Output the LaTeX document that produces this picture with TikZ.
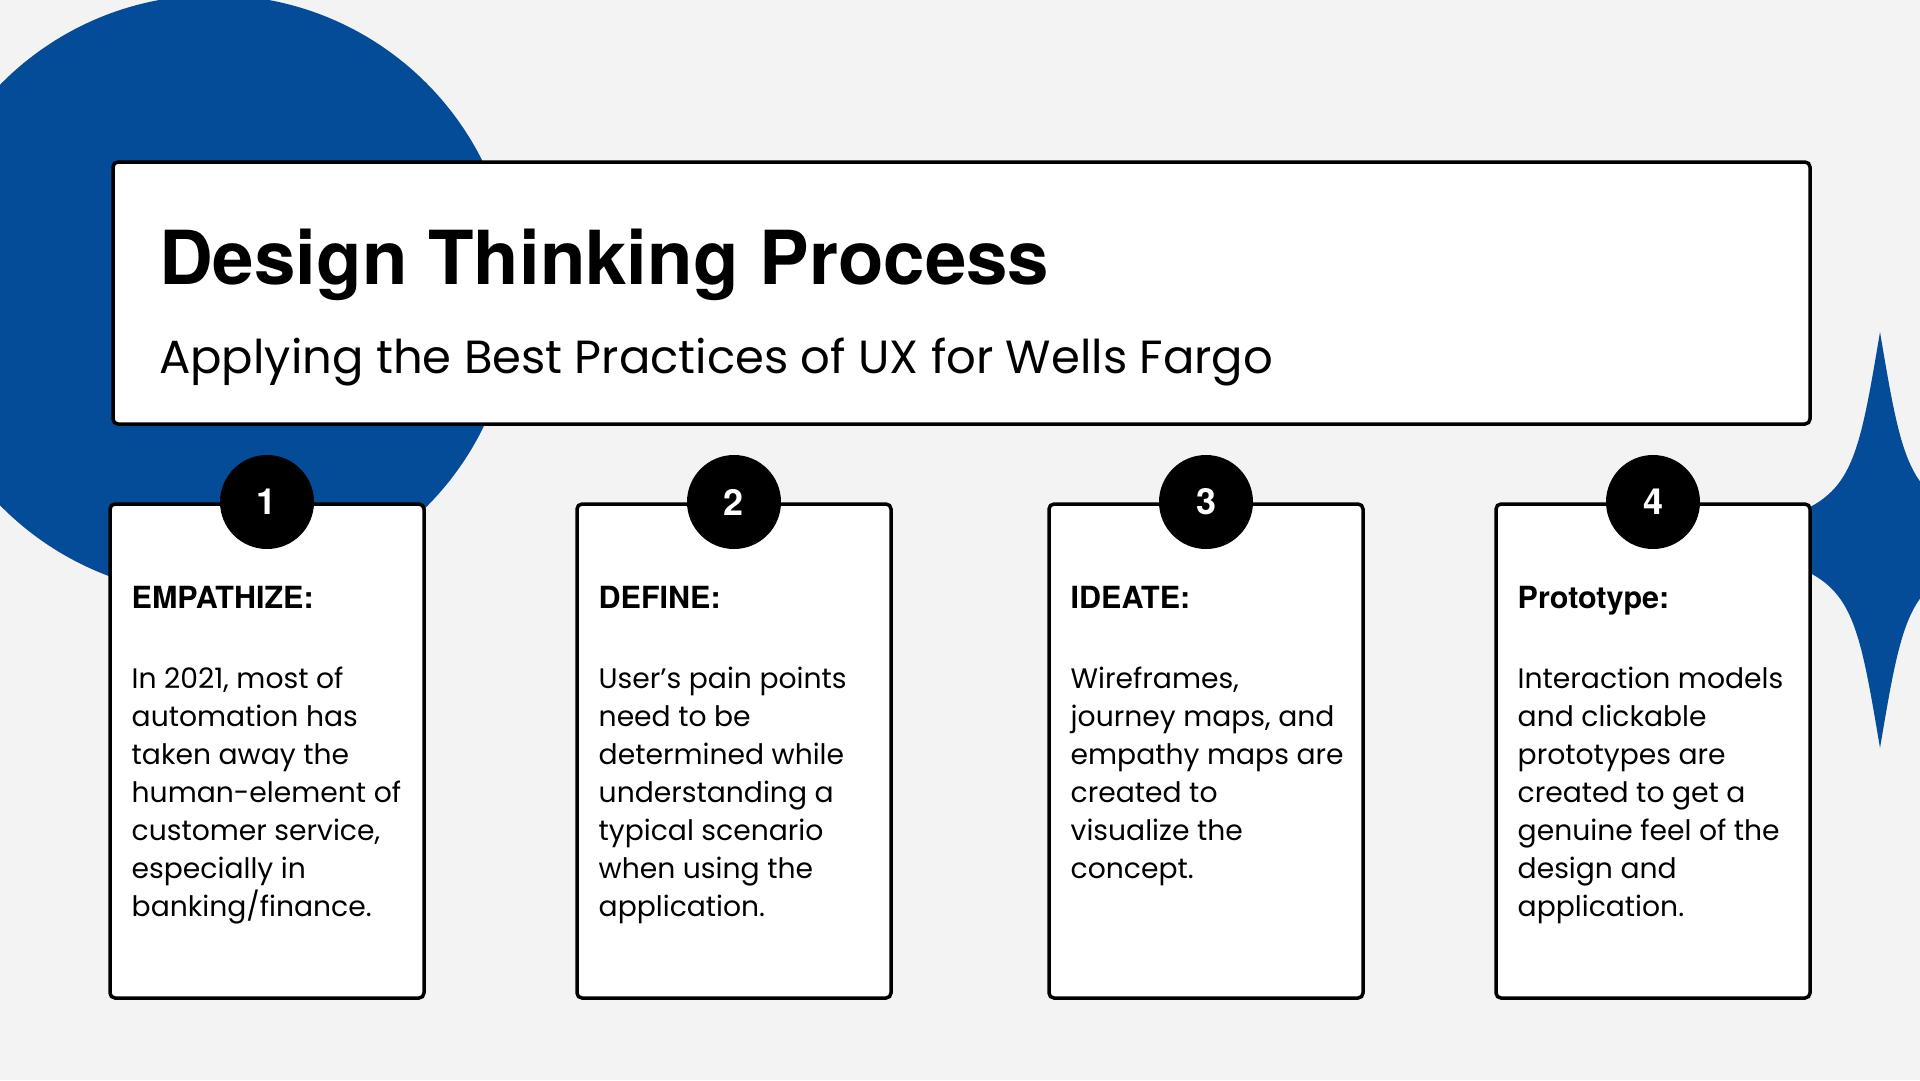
\documentclass[tikz,border=0pt]{standalone}
\usepackage{fontspec}
\setmainfont{Poppins}
\newfontfamily\headfont{TeX Gyre Heros}

\definecolor{pagebg}{HTML}{F3F3F3}
\definecolor{fargoblue}{HTML}{044C97}

\begin{document}
\begin{tikzpicture}
[
	x=1pt,y=-1pt,
	panel/.style={draw=black,line width=3.5pt,fill=white,rounded corners=5pt,inner sep=0pt},
	numdot/.style={circle,fill=black,text=white,minimum size=94pt,inner sep=0pt,font=\headfont\bfseries\fontsize{36}{36}\selectfont},
	cardhead/.style={anchor=base west,inner sep=0pt,font=\headfont\bfseries\fontsize{30.5}{30.5}\selectfont},
	cardbody/.style={anchor=north west,inner sep=0pt,align=left,font=\fontsize{28.2}{38}\selectfont}
]

	\useasboundingbox (0,0) rectangle (1920,1080);
	\clip (0,0) rectangle (1920,1080);
	\fill[pagebg] (0,0) rectangle (1920,1080);

	% background shapes
	\fill[fargoblue] (214,295) circle (300);
	\fill[fargoblue] (1880,332) .. controls (1850,510) .. (1672,540)
		.. controls (1850,570) .. (1880,748)
		.. controls (1910,570) .. (2088,540)
		.. controls (1910,510) .. (1880,332) -- cycle;

	\node[panel,minimum width=1697pt,minimum height=262pt] at (961.5,293) (head) {};
	\node[anchor=base west,inner sep=0pt,font=\headfont\bfseries\fontsize{74.5}{74.5}\selectfont] at (159,284) (title) {Design Thinking Process};
	\node[anchor=base west,inner sep=0pt,font=\fontsize{46.5}{46.5}\selectfont] at (159,373) (subtitle) {Applying the Best Practices of UX for Wells Fargo};

	\foreach \cx/\n/\head/\body in {
		267/1/EMPATHIZE:/{In 2021, most of\\automation has\\taken away the\\human-element of\\customer service,\\especially in\\banking/finance.},
		734/2/DEFINE:/{User’s pain points\\need to be\\determined while\\understanding a\\typical scenario\\when using the\\application.},
		1206/3/IDEATE:/{Wireframes,\\journey maps, and\\empathy maps are\\created to\\visualize the\\concept.},
		1653/4/Prototype:/{Interaction models\\and clickable\\prototypes are\\created to get a\\genuine feel of the\\design and\\application.}}
	{
		\node[panel,minimum width=314pt,minimum height=494pt] at (\cx,751) (card\n) {};
		\node[numdot] at (\cx,502) (num\n) {\n};
		\node[cardhead] at (\cx-135.5,608) (step\n) {\head};
		\node[cardbody] at (\cx-135.5,664.5) (text\n) {\rule{0pt}{24pt}\body};
	}

\end{tikzpicture}
\end{document}
